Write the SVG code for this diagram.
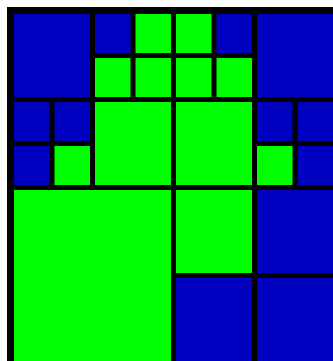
<svg xmlns="http://www.w3.org/2000/svg" width="333" height="361" viewBox="0 0 333 361">
<style>
.b{fill:#0000c0}
.g{fill:#00ff00}
</style>
<rect width="333" height="361" fill="#ffffff"/>
<rect id="frame" x="7" y="7" width="326" height="354" fill="#000000"/>
<g id="n1"><rect class="b" x="14" y="14" width="76" height="83"/></g>
<g id="n2"><rect class="b" x="95" y="14" width="35.5" height="39"/></g>
<g id="n3"><rect class="g" x="135.5" y="14" width="35.5" height="39"/></g>
<g id="n4"><rect class="g" x="176" y="14" width="35.5" height="39"/></g>
<g id="n5"><rect class="b" x="216.5" y="14" width="35.5" height="39"/></g>
<g id="n6"><rect class="g" x="95" y="58" width="35.5" height="39"/></g>
<g id="n7"><rect class="g" x="135.5" y="58" width="35.5" height="39"/></g>
<g id="n8"><rect class="g" x="176" y="58" width="35.5" height="39"/></g>
<g id="n9"><rect class="g" x="216.5" y="58" width="35.5" height="39"/></g>
<g id="n10"><rect class="b" x="257" y="14" width="76" height="83"/></g>
<g id="n11"><rect class="b" x="14" y="102" width="35.5" height="39"/></g>
<g id="n12"><rect class="b" x="54.5" y="102" width="35.5" height="39"/></g>
<g id="n13"><rect class="b" x="14" y="146" width="35.5" height="39"/></g>
<g id="n14"><rect class="g" x="54.5" y="146" width="35.5" height="39"/></g>
<g id="n15"><rect class="g" x="95" y="102" width="76" height="83"/></g>
<g id="n16"><rect class="g" x="176" y="102" width="76" height="83"/></g>
<g id="n17"><rect class="b" x="257" y="102" width="35.5" height="39"/></g>
<g id="n18"><rect class="b" x="297.5" y="102" width="35.5" height="39"/></g>
<g id="n19"><rect class="g" x="257" y="146" width="35.5" height="39"/></g>
<g id="n20"><rect class="b" x="297.5" y="146" width="35.5" height="39"/></g>
<g id="n21"><rect class="g" x="14" y="190" width="157" height="171"/></g>
<g id="n22"><rect class="g" x="176" y="190" width="76" height="83"/></g>
<g id="n23"><rect class="b" x="257" y="190" width="76" height="83"/></g>
<g id="n24"><rect class="b" x="176" y="278" width="76" height="83"/></g>
<g id="n25"><rect class="b" x="257" y="278" width="76" height="83"/></g>
<g id="connectors"></g>
</svg>
